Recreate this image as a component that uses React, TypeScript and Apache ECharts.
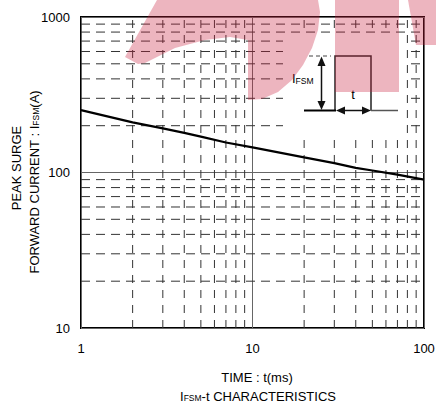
import React, { useEffect, useRef } from "react";
import * as echarts from "echarts";

// ---- data ----
const tMs = [1, 2, 3, 4, 5, 7, 10, 20, 30, 40, 50, 70, 100];
const iFsm = [252, 210, 192, 180, 170, 156, 145, 125, 115, 107, 103, 97, 90];
const xMinor = [2, 3, 4, 5, 6, 7, 8, 9, 20, 30, 40, 50, 60, 70, 80, 90];
const yMinor = [20, 30, 40, 50, 60, 70, 80, 90, 200, 300, 400, 500, 600, 700, 800, 900];
const xRange = [1, 100];
const yRange = [10, 1000];

const FONT = "'Liberation Sans', Arial, sans-serif";
const FS = 13;

export default function App() {
  const ref = useRef<HTMLDivElement>(null);
  useEffect(() => {
    if (!ref.current) return;
    const chart = echarts.init(ref.current, undefined, { renderer: "svg" });

    const vLines = xMinor.map((v) => ({
      type: "line",
      data: [[v, yRange[0]], [v, yRange[1]]],
      symbol: "none",
      silent: true,
      z: 1,
      lineStyle: { color: "#333", width: 1, type: [8, 7] },
      emphasis: { disabled: true },
    }));
    const hLines = yMinor.map((v) => ({
      type: "line",
      data: [[xRange[0], v], [xRange[1], v]],
      symbol: "none",
      silent: true,
      z: 1,
      lineStyle: { color: "#333", width: 1, type: [9, 6] },
      emphasis: { disabled: true },
    }));

    const wm = "rgba(200, 30, 60, 0.33)";
    const dark = "#111";
    const rich = {
      m: { fontSize: FS, fontFamily: FONT, fill: "#000", verticalAlign: "bottom" },
      s: { fontSize: 8.5, fontFamily: FONT, fill: "#000", verticalAlign: "bottom" },
    };
    const fmt = (v: number) => String(Math.round(v));

    const option: any = {
      animation: false,
      grid: {
        left: 81,
        top: 17,
        right: 12,
        bottom: 77,
        show: true,
        borderColor: "#000",
        borderWidth: 2,
        containLabel: false,
        outerBoundsMode: "none",
      },
      xAxis: {
        type: "log",
        logBase: 10,
        min: xRange[0],
        max: xRange[1],
        axisLine: { show: false },
        axisTick: { show: false },
        splitLine: { show: true, lineStyle: { color: "#666", width: 1 } },
        axisLabel: {
          fontSize: FS,
          color: "#000",
          fontFamily: FONT,
          margin: 14,
          showMinLabel: true,
          showMaxLabel: true,
          formatter: fmt,
        },
      },
      yAxis: {
        type: "log",
        logBase: 10,
        min: yRange[0],
        max: yRange[1],
        axisLine: { show: false },
        axisTick: { show: false },
        splitLine: { show: true, lineStyle: { color: "#666", width: 1 } },
        axisLabel: {
          fontSize: FS,
          color: "#000",
          fontFamily: FONT,
          margin: 11,
          showMinLabel: true,
          showMaxLabel: true,
          formatter: fmt,
        },
      },
      series: [
        ...vLines,
        ...hLines,
        {
          type: "line",
          name: "IFSM",
          data: tMs.map((t, i) => [t, iFsm[i]]),
          symbol: "none",
          z: 3,
          lineStyle: { color: "#000", width: 2.2 },
          emphasis: { disabled: true },
        },
      ],
      graphic: [
        // mask behind inset
        { type: "rect", z: 2, silent: true, shape: { x: 283, y: 35, width: 123, height: 103 }, style: { fill: "#fff" } },
        // inset diagram
        { type: "line", z: 4, shape: { x1: 309, y1: 56, x2: 331, y2: 56 }, style: { stroke: "#444", lineWidth: 1, lineDash: [4, 3] } },
        { type: "polyline", z: 4, shape: { points: [[335, 110.5], [335, 56], [371, 56], [371, 110.5]] }, style: { stroke: "#222", lineWidth: 1.5, fill: null } },
        { type: "line", z: 4, shape: { x1: 304, y1: 110.5, x2: 336, y2: 110.5 }, style: { stroke: "#000", lineWidth: 2 } },
        { type: "line", z: 4, shape: { x1: 371, y1: 110.5, x2: 398, y2: 110.5 }, style: { stroke: "#555", lineWidth: 1.5 } },
        { type: "line", z: 4, shape: { x1: 321.5, y1: 64, x2: 321.5, y2: 103 }, style: { stroke: dark, lineWidth: 1.5 } },
        { type: "polygon", z: 4, shape: { points: [[321.5, 56.5], [317.5, 66], [325.5, 66]] }, style: { fill: dark } },
        { type: "polygon", z: 4, shape: { points: [[321.5, 110], [317.5, 101], [325.5, 101]] }, style: { fill: dark } },
        { type: "line", z: 4, shape: { x1: 343, y1: 110.5, x2: 364, y2: 110.5 }, style: { stroke: dark, lineWidth: 1.5 } },
        { type: "polygon", z: 4, shape: { points: [[336, 110.5], [345, 106.5], [345, 114.5]] }, style: { fill: dark } },
        { type: "polygon", z: 4, shape: { points: [[371, 110.5], [362, 106.5], [362, 114.5]] }, style: { fill: dark } },
        {
          type: "text", z: 4, x: 292, y: 85,
          style: { text: "{m|I}{s|FSM}", rich, align: "left", verticalAlign: "bottom" },
        },
        {
          type: "text", z: 4, x: 353, y: 94,
          style: { text: "t", fontSize: FS, fontFamily: FONT, fill: "#000", align: "center", verticalAlign: "middle" },
        },
        // axis titles
        {
          type: "text", x: 16, y: 168, rotation: Math.PI / 2,
          style: { text: "PEAK SURGE", fontSize: FS, fontFamily: FONT, fill: "#000", align: "center", verticalAlign: "middle" },
        },
        {
          type: "text", x: 34, y: 182, rotation: Math.PI / 2,
          style: { text: "{m|FORWARD CURRENT : I}{s|FSM}{m|(A)}", rich, align: "center", verticalAlign: "middle" },
        },
        {
          type: "text", x: 257, y: 377,
          style: { text: "TIME : t(ms)", fontSize: FS, fontFamily: FONT, fill: "#000", align: "center", verticalAlign: "middle" },
        },
        {
          type: "text", x: 258, y: 396,
          style: { text: "{m|I}{s|FSM}{m|-t CHARACTERISTICS}", rich, align: "center", verticalAlign: "middle" },
        },
        // watermark
        {
          type: "polygon", z: 10, silent: true,
          shape: {
            points: [
              [125, 57], [157, 0], [318, 0], [320, 12], [318, 30], [312, 48], [303, 65], [292, 80],
              [278, 92], [262, 99], [248, 100], [248, 40], [230, 37], [205, 40], [175, 48], [145, 63], [138, 64],
            ],
          },
          style: { fill: wm },
        },
        { type: "rect", z: 10, silent: true, shape: { x: 335, y: 0, width: 64, height: 92 }, style: { fill: wm } },
        { type: "polygon", z: 10, silent: true, shape: { points: [[408, 0], [436, 0], [436, 45], [416, 45]] }, style: { fill: wm } },
      ],
    };

    chart.setOption(option);
    return () => chart.dispose();
  }, []);

  return (
    <div
      ref={ref}
      style={{ position: "fixed", left: 0, top: 0, width: 436, height: 405, background: "#fff" }}
    />
  );
}
